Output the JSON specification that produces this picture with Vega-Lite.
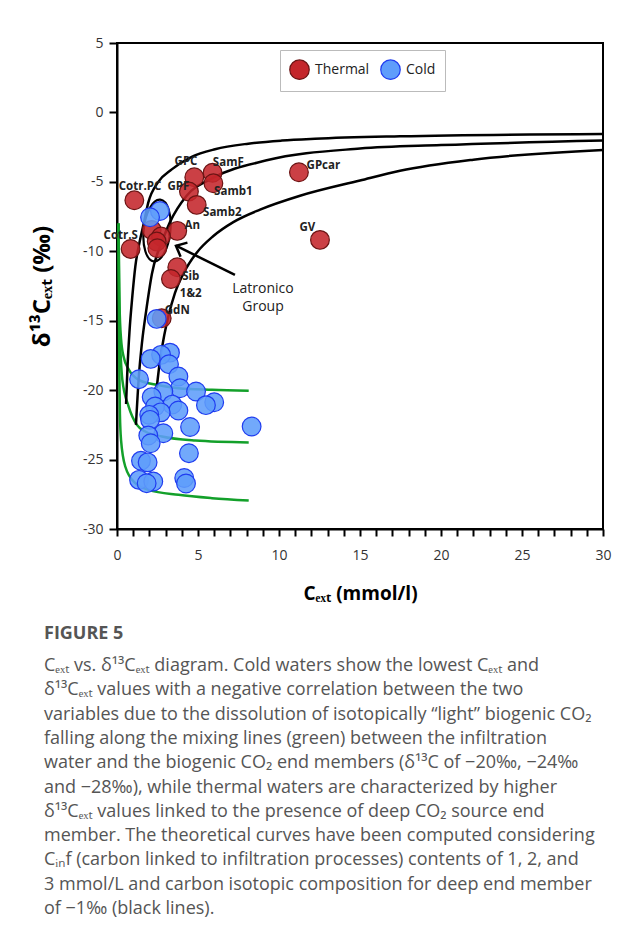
{
  "$schema": "https://vega.github.io/schema/vega-lite/v6.json",
  "width": 486,
  "height": 486,
  "autosize": {"type": "none"},
  "padding": {"left": 117, "top": 43, "right": 21, "bottom": 411},
  "background": "white",
  "config": {
    "view": {"stroke": "black", "strokeWidth": 2},
    "font": "Open Sans",
    "axis": {
      "grid": false,
      "domainColor": "black",
      "domainWidth": 2,
      "tickColor": "black",
      "tickWidth": 2,
      "labelFont": "Open Sans",
      "labelFontSize": 14,
      "labelColor": "#333",
      "labelOverlap": false,
      "labelFlush": false,
      "labelBound": false,
      "titleFont": "Open Sans",
      "titleFontWeight": "bold",
      "titleColor": "black"
    }
  },
  "title": {
    "text": "FIGURE 5",
    "subtitle": [
      "Cₑₓₜ vs. δ¹³Cₑₓₜ diagram. Cold waters show the lowest Cₑₓₜ and",
      "δ¹³Cₑₓₜ values with a negative correlation between the two",
      "variables due to the dissolution of isotopically “light” biogenic CO₂",
      "falling along the mixing lines (green) between the infiltration",
      "water and the biogenic CO₂ end members (δ¹³C of −20‰, −24‰",
      "and −28‰), while thermal waters are characterized by higher",
      "δ¹³Cₑₓₜ values linked to the presence of deep CO₂ source end",
      "member. The theoretical curves have been computed considering",
      "Cᵢₙf (carbon linked to infiltration processes) contents of 1, 2, and",
      "3 mmol/L and carbon isotopic composition for deep end member",
      "of −1‰ (black lines)."
    ],
    "orient": "bottom",
    "anchor": "start",
    "frame": "group",
    "dx": -73,
    "offset": 22,
    "font": "Open Sans",
    "fontSize": 18,
    "fontWeight": "bold",
    "color": "#555",
    "subtitleFont": "Open Sans",
    "subtitleFontSize": 18,
    "subtitleColor": "#555",
    "subtitleLineHeight": 24.3,
    "subtitlePadding": 14
  },
  "datasets": {
    "pts": [
      {"type": "Thermal", "x": 4.77, "y": -4.67},
      {"type": "Thermal", "x": 5.9, "y": -4.34},
      {"type": "Thermal", "x": 5.95, "y": -5.1},
      {"type": "Thermal", "x": 4.44, "y": -5.7},
      {"type": "Thermal", "x": 4.92, "y": -6.66},
      {"type": "Thermal", "x": 1.07, "y": -6.33},
      {"type": "Thermal", "x": 11.23, "y": -4.31},
      {"type": "Thermal", "x": 12.53, "y": -9.18},
      {"type": "Thermal", "x": 3.72, "y": -8.53},
      {"type": "Thermal", "x": 0.84, "y": -9.83},
      {"type": "Thermal", "x": 2.14, "y": -8.46},
      {"type": "Thermal", "x": 2.72, "y": -8.94},
      {"type": "Thermal", "x": 2.45, "y": -9.3},
      {"type": "Thermal", "x": 2.49, "y": -9.78},
      {"type": "Thermal", "x": 3.72, "y": -11.15},
      {"type": "Thermal", "x": 3.33, "y": -12.0},
      {"type": "Thermal", "x": 2.76, "y": -14.82},
      {"type": "Cold", "x": 2.65, "y": -7.1},
      {"type": "Cold", "x": 2.04, "y": -7.55},
      {"type": "Cold", "x": 2.45, "y": -14.87},
      {"type": "Cold", "x": 3.27, "y": -17.3},
      {"type": "Cold", "x": 2.72, "y": -17.46},
      {"type": "Cold", "x": 2.08, "y": -17.75},
      {"type": "Cold", "x": 3.21, "y": -18.13},
      {"type": "Cold", "x": 3.79, "y": -19.02},
      {"type": "Cold", "x": 1.36, "y": -19.21},
      {"type": "Cold", "x": 3.89, "y": -19.86},
      {"type": "Cold", "x": 2.86, "y": -20.1},
      {"type": "Cold", "x": 4.88, "y": -20.1},
      {"type": "Cold", "x": 2.14, "y": -20.5},
      {"type": "Cold", "x": 6.0, "y": -20.87},
      {"type": "Cold", "x": 5.49, "y": -21.08},
      {"type": "Cold", "x": 3.41, "y": -21.04},
      {"type": "Cold", "x": 2.35, "y": -21.18},
      {"type": "Cold", "x": 3.79, "y": -21.47},
      {"type": "Cold", "x": 2.7, "y": -21.6},
      {"type": "Cold", "x": 1.99, "y": -21.78},
      {"type": "Cold", "x": 2.04, "y": -22.14},
      {"type": "Cold", "x": 8.31, "y": -22.62},
      {"type": "Cold", "x": 4.51, "y": -22.65},
      {"type": "Cold", "x": 2.86, "y": -23.1},
      {"type": "Cold", "x": 1.93, "y": -23.27},
      {"type": "Cold", "x": 2.08, "y": -23.82},
      {"type": "Cold", "x": 4.44, "y": -24.54},
      {"type": "Cold", "x": 1.48, "y": -25.09},
      {"type": "Cold", "x": 1.89, "y": -25.2},
      {"type": "Cold", "x": 1.36, "y": -26.46},
      {"type": "Cold", "x": 2.24, "y": -26.58},
      {"type": "Cold", "x": 1.83, "y": -26.7},
      {"type": "Cold", "x": 4.15, "y": -26.33},
      {"type": "Cold", "x": 4.26, "y": -26.72}
    ],
    "labels": [
      {"label": "GPC", "x": 4.26, "y": -3.55},
      {"label": "SamF", "x": 6.87, "y": -3.66},
      {"label": "Cotr.PC", "x": 1.42, "y": -5.35},
      {"label": "GPF", "x": 3.79, "y": -5.35},
      {"label": "Samb1", "x": 7.18, "y": -5.7},
      {"label": "Samb2", "x": 6.5, "y": -7.22},
      {"label": "An", "x": 4.65, "y": -8.15},
      {"label": "Cotr.S", "x": 0.23, "y": -8.87},
      {"label": "GPcar", "x": 12.74, "y": -3.86},
      {"label": "GV", "x": 11.75, "y": -8.34},
      {"label": "Sib", "x": 4.55, "y": -11.82},
      {"label": "1&2", "x": 4.55, "y": -13.09},
      {"label": "GdN", "x": 3.72, "y": -14.27}
    ],
    "deep": [
      {"curve": "A", "x": 0.56, "y": -21.0},
      {"curve": "A", "x": 0.65, "y": -18.3},
      {"curve": "A", "x": 0.77, "y": -15.8},
      {"curve": "A", "x": 0.95, "y": -13.2},
      {"curve": "A", "x": 1.13, "y": -11.1},
      {"curve": "A", "x": 1.4, "y": -9.3},
      {"curve": "A", "x": 1.65, "y": -8.0},
      {"curve": "A", "x": 1.93, "y": -6.5},
      {"curve": "A", "x": 2.55, "y": -5.0},
      {"curve": "A", "x": 3.38, "y": -4.1},
      {"curve": "A", "x": 4.61, "y": -3.2},
      {"curve": "A", "x": 6.05, "y": -2.65},
      {"curve": "A", "x": 8.1, "y": -2.25},
      {"curve": "A", "x": 10.17, "y": -2.03},
      {"curve": "A", "x": 12.22, "y": -1.9},
      {"curve": "A", "x": 17.47, "y": -1.72},
      {"curve": "A", "x": 30, "y": -1.55},
      {"curve": "B", "x": 1.17, "y": -22.5},
      {"curve": "B", "x": 1.35, "y": -19.0},
      {"curve": "B", "x": 1.55, "y": -16.5},
      {"curve": "B", "x": 1.8, "y": -14.3},
      {"curve": "B", "x": 2.16, "y": -11.6},
      {"curve": "B", "x": 2.78, "y": -9.3},
      {"curve": "B", "x": 3.27, "y": -7.9},
      {"curve": "B", "x": 4.3, "y": -6.0},
      {"curve": "B", "x": 5.95, "y": -4.7},
      {"curve": "B", "x": 9.24, "y": -3.45},
      {"curve": "B", "x": 15, "y": -2.6},
      {"curve": "B", "x": 20, "y": -2.35},
      {"curve": "B", "x": 30, "y": -2.03},
      {"curve": "C", "x": 2.45, "y": -19.85},
      {"curve": "C", "x": 2.65, "y": -17.9},
      {"curve": "C", "x": 2.86, "y": -16.4},
      {"curve": "C", "x": 3.17, "y": -14.7},
      {"curve": "C", "x": 3.58, "y": -13.0},
      {"curve": "C", "x": 4.1, "y": -11.6},
      {"curve": "C", "x": 4.92, "y": -10.1},
      {"curve": "C", "x": 5.95, "y": -8.9},
      {"curve": "C", "x": 7.18, "y": -7.9},
      {"curve": "C", "x": 8.83, "y": -7.0},
      {"curve": "C", "x": 11.3, "y": -6.0},
      {"curve": "C", "x": 15, "y": -4.9},
      {"curve": "C", "x": 17.47, "y": -4.2},
      {"curve": "C", "x": 22, "y": -3.4},
      {"curve": "C", "x": 30, "y": -2.7}
    ],
    "bio": [
      {"curve": "G1", "x": 0.1, "y": -8.0},
      {"curve": "G1", "x": 0.12, "y": -11.0},
      {"curve": "G1", "x": 0.16, "y": -14.0},
      {"curve": "G1", "x": 0.25, "y": -16.3},
      {"curve": "G1", "x": 0.41, "y": -17.6},
      {"curve": "G1", "x": 0.72, "y": -18.5},
      {"curve": "G1", "x": 1.34, "y": -19.26},
      {"curve": "G1", "x": 2.36, "y": -19.6},
      {"curve": "G1", "x": 3.8, "y": -19.86},
      {"curve": "G1", "x": 5.86, "y": -19.98},
      {"curve": "G1", "x": 8.13, "y": -20.05},
      {"curve": "G2", "x": 0.1, "y": -8.0},
      {"curve": "G2", "x": 0.12, "y": -12.0},
      {"curve": "G2", "x": 0.16, "y": -15.5},
      {"curve": "G2", "x": 0.24, "y": -17.8},
      {"curve": "G2", "x": 0.33, "y": -19.26},
      {"curve": "G2", "x": 0.72, "y": -21.18},
      {"curve": "G2", "x": 1.23, "y": -22.5},
      {"curve": "G2", "x": 1.75, "y": -22.98},
      {"curve": "G2", "x": 2.78, "y": -23.34},
      {"curve": "G2", "x": 4.83, "y": -23.63},
      {"curve": "G2", "x": 8.13, "y": -23.77},
      {"curve": "G3", "x": 0.1, "y": -8.0},
      {"curve": "G3", "x": 0.12, "y": -14.0},
      {"curve": "G3", "x": 0.15, "y": -19.0},
      {"curve": "G3", "x": 0.18, "y": -21.7},
      {"curve": "G3", "x": 0.25, "y": -23.6},
      {"curve": "G3", "x": 0.51, "y": -25.5},
      {"curve": "G3", "x": 1.13, "y": -26.7},
      {"curve": "G3", "x": 1.96, "y": -27.18},
      {"curve": "G3", "x": 3.8, "y": -27.54},
      {"curve": "G3", "x": 5.86, "y": -27.78},
      {"curve": "G3", "x": 8.13, "y": -27.95}
    ],
    "ellipse": [{"x": 2.47, "y": -8.5}],
    "arrow": [{"x": 7.28, "y": -11.7, "x2": 3.64, "y2": -9.6}],
    "group": [{"x": 9.01, "y": -12.7, "label": "Latronico\nGroup"}]
  },
  "layer": [
    {
      "data": {"name": "bio"},
      "mark": {"type": "line", "color": "#13a02a", "strokeWidth": 2.5, "interpolate": "monotone"},
      "encoding": {
        "x": {"field": "x", "type": "quantitative", "scale": {"domain": [0, 30], "nice": false},
          "axis": {"values": [0,1,2,3,4,5,6,7,8,9,10,11,12,13,14,15,16,17,18,19,20,21,22,23,24,25,26,27,28,29,30],
            "tickCount": 31,
            "labelExpr": "datum.value % 5 === 0 ? toString(datum.value) : ''",
            "tickSize": 7, "labelPadding": 12, "title": "Cₑₓₜ (mmol/l)", "titleFontSize": 19, "titlePadding": 22}},
        "y": {"field": "y", "type": "quantitative", "scale": {"domain": [-30, 5], "nice": false},
          "axis": {"values": [-30, -25, -20, -15, -10, -5, 0, 5], "tickCount": 8,
            "labelExpr": "toString(datum.value)",
            "tickSize": 8, "labelPadding": 6, "title": "δ¹³Cₑₓₜ (‰)", "titleFontSize": 24, "titlePadding": 28}},
        "detail": {"field": "curve"}
      }
    },
    {
      "data": {"name": "deep"},
      "mark": {"type": "line", "color": "black", "strokeWidth": 2.5, "interpolate": "monotone"},
      "encoding": {
        "x": {"field": "x", "type": "quantitative"},
        "y": {"field": "y", "type": "quantitative"},
        "detail": {"field": "curve"}
      }
    },
    {
      "data": {"name": "ellipse"},
      "mark": {"type": "point", "shape": "M0,-1A0.43,1,0,1,1,0,1A0.43,1,0,1,1,0,-1Z", "size": 3844, "angle": 6, "filled": false, "stroke": "black", "strokeWidth": 2.2, "opacity": 1},
      "encoding": {
        "x": {"field": "x", "type": "quantitative"},
        "y": {"field": "y", "type": "quantitative"}
      }
    },
    {
      "data": {"name": "arrow"},
      "mark": {"type": "rule", "color": "black", "strokeWidth": 2.5},
      "encoding": {
        "x": {"field": "x", "type": "quantitative"},
        "y": {"field": "y", "type": "quantitative"},
        "x2": {"field": "x2"},
        "y2": {"field": "y2"}
      }
    },
    {
      "data": {"name": "arrow"},
      "mark": {"type": "point", "shape": "M-0.7,0.8L0,0L0.7,0.8", "size": 500, "angle": 296, "filled": false, "stroke": "black", "strokeWidth": 2.5, "opacity": 1},
      "encoding": {
        "x": {"field": "x2", "type": "quantitative"},
        "y": {"field": "y2", "type": "quantitative"}
      }
    },
    {
      "data": {"name": "pts"},
      "mark": {"type": "circle", "size": 350, "strokeWidth": 1.2, "opacity": 1, "fillOpacity": 0.88},
      "encoding": {
        "x": {"field": "x", "type": "quantitative"},
        "y": {"field": "y", "type": "quantitative"},
        "fill": {"field": "type", "type": "nominal",
          "scale": {"domain": ["Thermal", "Cold"], "range": ["#c4262b", "#5f9dfb"]},
          "legend": {"title": null, "orient": "none", "legendX": 163, "legendY": 7, "direction": "horizontal",
            "symbolSize": 380, "labelFontSize": 14, "labelFont": "Open Sans", "labelColor": "#222",
            "strokeColor": "#bbb", "padding": 9, "columnPadding": 8, "symbolStrokeWidth": 1.2, "labelOffset": 5}},
        "stroke": {"field": "type", "type": "nominal",
          "scale": {"domain": ["Thermal", "Cold"], "range": ["#6b1414", "#1f3cf0"]}}
      }
    },
    {
      "data": {"name": "labels"},
      "mark": {"type": "text", "font": "Open Sans", "fontWeight": "bold", "fontSize": 11.5, "color": "#222", "align": "center", "baseline": "middle"},
      "encoding": {
        "x": {"field": "x", "type": "quantitative"},
        "y": {"field": "y", "type": "quantitative"},
        "text": {"field": "label"}
      }
    },
    {
      "data": {"name": "group"},
      "mark": {"type": "text", "font": "Open Sans", "fontSize": 14, "color": "#222", "align": "center", "baseline": "middle", "lineBreak": "\n", "lineHeight": 18},
      "encoding": {
        "x": {"field": "x", "type": "quantitative"},
        "y": {"field": "y", "type": "quantitative"},
        "text": {"field": "label"}
      }
    }
  ]
}
